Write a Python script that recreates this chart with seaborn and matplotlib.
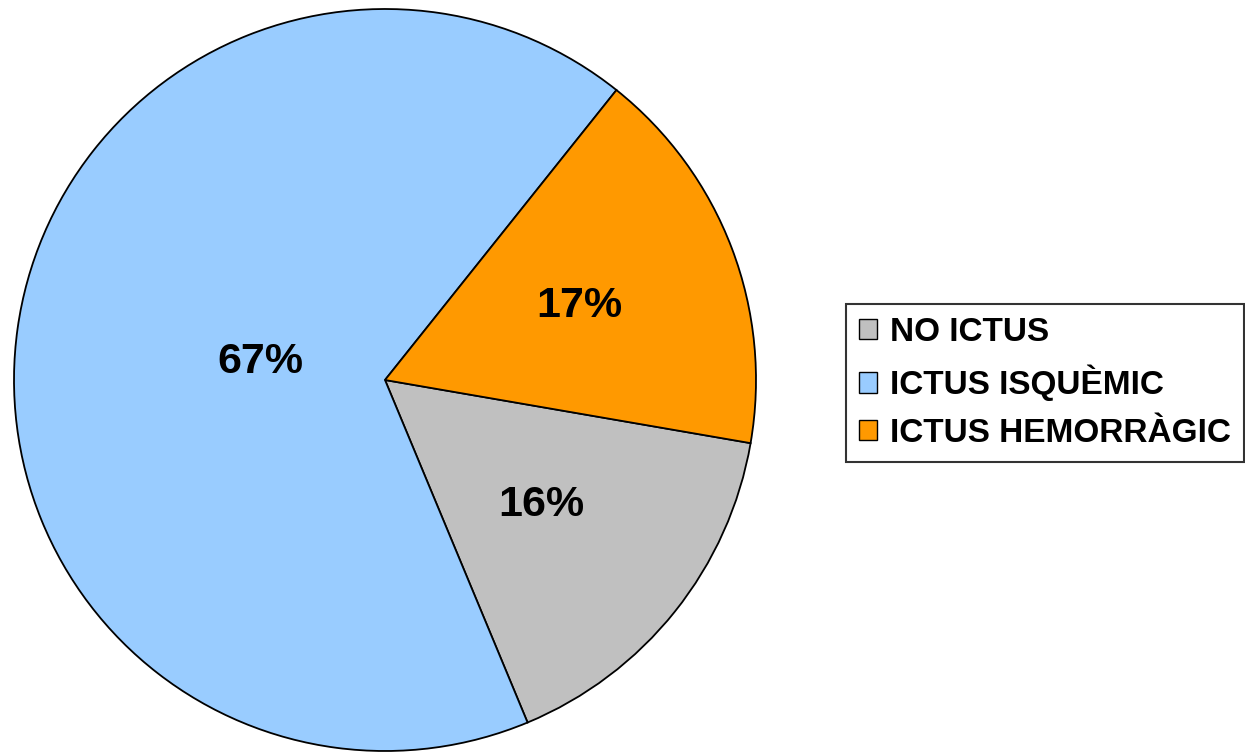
import numpy as np
import matplotlib
matplotlib.use("Agg")
import matplotlib.pyplot as plt
import seaborn as sns

# Data
categories = ["NO ICTUS", "ICTUS ISQUÈMIC", "ICTUS HEMORRÀGIC"]
percentages = [16, 67, 17]
colors = ["#C0C0C0", "#99CCFF", "#FF9900"]

sns.set_theme(style="white")
plt.rcParams["font.family"] = ["Liberation Sans", "DejaVu Sans"]
plt.rcParams["text.color"] = "black"

W, H = 1245, 752
fig = plt.figure(figsize=(W / 100, H / 100), dpi=100)
fig.patch.set_facecolor("white")

# pie centre ~ (385, 380) px, radius ~371 px
cx, cy, r = 385, 380, 371
ax = fig.add_axes([(cx - r) / W, (H - cy - r) / H, 2 * r / W, 2 * r / H])
ax.set_aspect("equal")

wedges, _ = ax.pie(
    percentages,
    colors=colors,
    startangle=-9.8,
    counterclock=False,
    radius=1.0,
    wedgeprops=dict(edgecolor="black", linewidth=1.3),
)
ax.set_xlim(-1, 1)
ax.set_ylim(-1, 1)
ax.axis("off")

# percentage labels, placed along each wedge's mid angle
label_dist = [0.54, 0.34, 0.56]
for w, pct, d in zip(wedges, percentages, label_dist):
    mid = np.deg2rad((w.theta1 + w.theta2) / 2)
    ax.text(d * np.cos(mid), d * np.sin(mid), f"{pct}%",
            ha="center", va="center", fontsize=31, fontweight="bold", color="black")

leg = fig.legend(
    wedges, categories,
    loc="center left",
    bbox_to_anchor=(846 / W, 1 - 383 / H),
    prop=dict(weight="bold", size=24),
    frameon=True,
    fancybox=False,
    handlelength=0.55,
    handleheight=0.55,
    handletextpad=0.4,
    borderpad=0.38,
    borderaxespad=0,
    labelspacing=0.5,
)
leg.get_frame().set_edgecolor("black")
leg.get_frame().set_linewidth(1.5)
for t in leg.get_texts():
    t.set_color("black")
for h in leg.legend_handles:
    h.set_linewidth(1.0)

fig.savefig("out.png", dpi=100)
